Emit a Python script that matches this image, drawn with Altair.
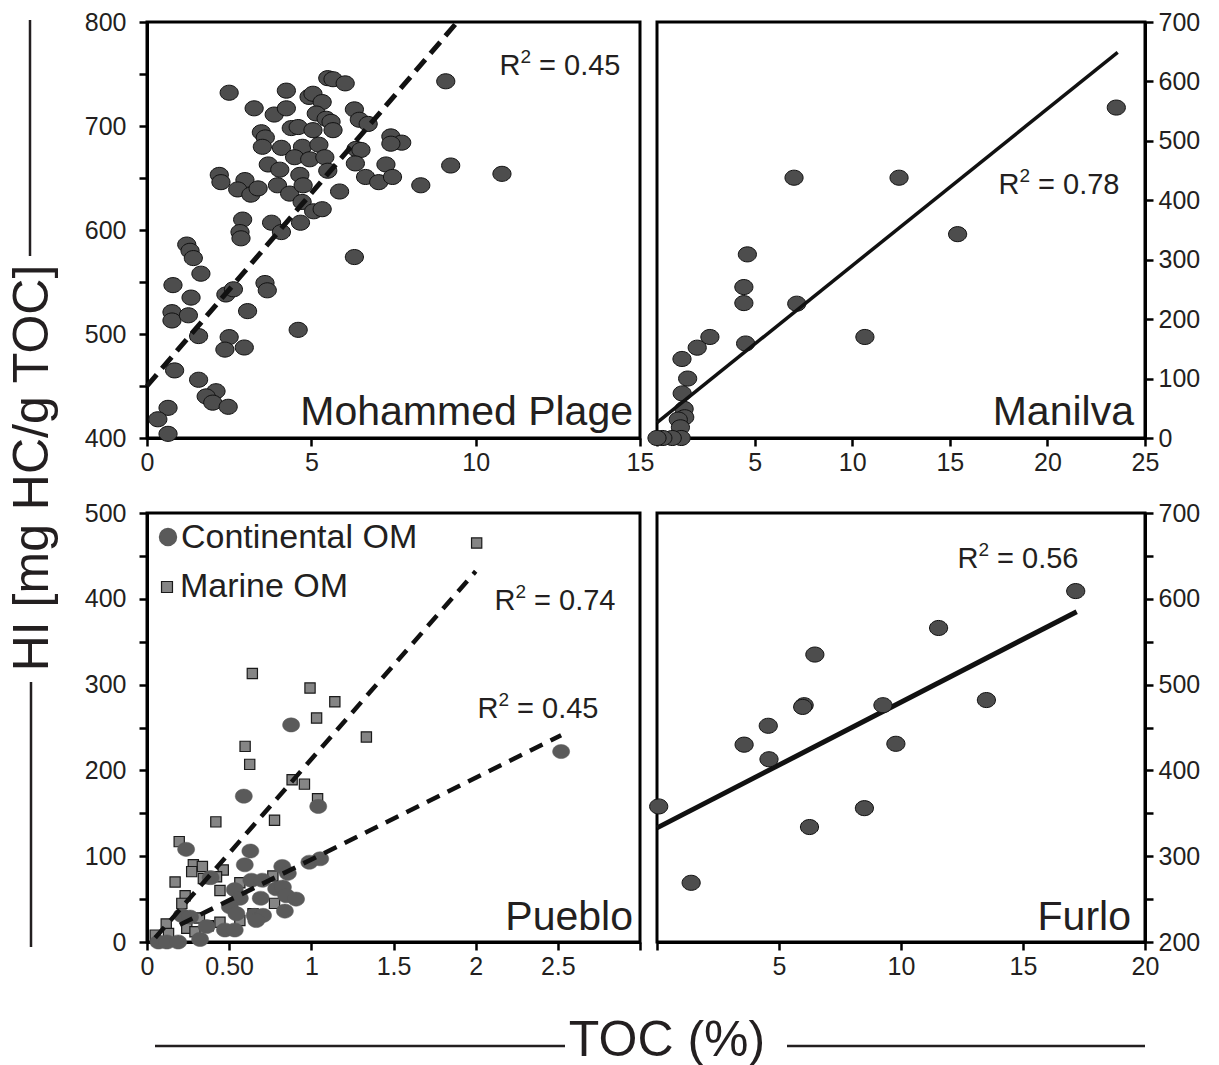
import altair as alt
import pandas as pd

# ---------------- data ----------------
# Mohammed Plage
mp_toc = [2.5, 4.24, 5.5, 5.66, 6.03, 9.09, 3.26, 3.87, 4.24, 4.93,
          5.05, 5.33, 6.31, 6.46, 6.73, 5.15, 5.45, 5.6, 5.66, 4.39,
          4.6, 5.05, 3.48, 3.6, 3.51, 4.09, 4.73, 5.23, 4.49, 4.95,
          5.41, 6.36, 6.51, 7.42, 7.75, 7.42, 6.34, 7.27, 9.24, 10.8,
          3.69, 4.04, 4.65, 5.5, 2.2, 2.25, 2.98, 2.76, 3.16, 3.38,
          3.97, 4.34, 4.75, 4.72, 5.07, 5.33, 5.86, 6.65, 7.05, 7.47,
          8.33, 2.91, 2.83, 2.86, 3.79, 4.09, 4.67, 6.31, 1.21, 1.31,
          1.41, 1.64, 0.79, 1.34, 0.76, 0.76, 1.26, 2.4, 2.63, 3.59,
          3.66, 3.06, 1.57, 2.5, 2.37, 2.96, 4.6, 0.84, 1.57, 2.1,
          1.8, 2.0, 2.47, 0.64, 0.33, 0.64]
mp_hi = [732, 734, 746, 745, 741, 743, 717, 711, 717, 728,
         731, 723, 716, 706, 702, 712, 707, 704, 696, 698,
         699, 696, 694, 689, 680, 679, 680, 682, 670, 668,
         670, 678, 677, 690, 684, 683, 664, 663, 662, 654,
         663, 658, 653, 657, 653, 646, 648, 639, 634, 640,
         643, 635, 643, 627, 618, 620, 637, 651, 646, 651,
         643, 610, 598, 592, 607, 598, 607, 574, 586, 580,
         573, 558, 547, 535, 521, 513, 518, 538, 543, 549,
         542, 522, 498, 497, 485, 487, 504, 465, 456, 445,
         440, 434, 430, 429, 418, 404]
mp_fit_toc = [0.0, 9.44]
mp_fit_hi = [450, 800]

# Manilva
man_toc = [23.53, 7.02, 12.4, 15.4, 4.63, 4.45, 4.45, 7.16, 10.65, 2.71,
           2.06, 4.54, 1.28, 1.57, 1.29, 1.39, 1.42, 1.09, 1.2, 1.24,
           0.78, 0.3, 0.0]
man_hi = [556, 438, 438, 343, 309, 254, 227, 226, 170, 170,
          152, 159, 133, 100, 75, 49, 35, 31, 18, 0,
          0, 0, 0]
man_fit_toc = [0.0, 23.6]
man_fit_hi = [26, 649]

# Pueblo
pue_mar_toc = [2.006, 0.641, 0.992, 1.143, 1.032, 1.335, 0.597, 0.625, 0.883, 0.958,
               1.038, 0.419, 0.776, 0.196, 0.282, 0.337, 0.272, 0.464, 0.343, 0.423,
               0.171, 0.565, 0.766, 0.232, 0.444, 0.212, 0.776, 0.319, 0.444, 0.565,
               0.117, 0.131, 0.242, 0.292, 0.373, 0.645, 0.05]
pue_mar_hi = [465, 313, 296, 280, 261, 239, 228, 207, 189, 184,
              167, 140, 142, 117, 90, 88, 82, 84, 74, 76,
              70, 69, 77, 54, 60, 45, 45, 28, 23, 25,
              21, 10, 16, 12, 19, 33, 8]
pue_con_toc = [2.52, 0.877, 0.589, 1.042, 0.238, 0.629, 0.595, 0.988, 1.054, 0.823,
               0.857, 0.387, 0.635, 0.702, 0.786, 0.827, 0.847, 0.907, 0.534, 0.565,
               0.504, 0.544, 0.692, 0.655, 0.706, 0.665, 0.839, 0.212, 0.262, 0.363,
               0.323, 0.474, 0.534, 0.07, 0.121, 0.19]
pue_con_hi = [222, 253, 170, 158, 108, 106, 90, 93, 97, 88,
              80, 75, 72, 72, 62, 64, 54, 50, 61, 51,
              41, 33, 51, 31, 31, 25, 36, 31, 29, 18,
              3, 14, 14, 0, 0, 0]
pue_mar_fit_toc = [0.05, 2.0]
pue_mar_fit_hi = [5, 432]
pue_con_fit_toc = [0.2, 2.52]
pue_con_fit_hi = [20, 241]

# Furlo
fur_toc = [0.07, 1.4, 3.57, 4.56, 4.59, 6.03, 5.97, 6.47, 6.25, 8.5,
           9.26, 9.79, 11.54, 13.5, 17.16]
fur_hi = [358, 269, 430, 452, 413, 476, 474, 535, 334, 356,
          476, 431, 566, 482, 609]
fur_fit_toc = [0.0, 17.2]
fur_fit_hi = [333, 585]

# ---------------- style ----------------
FONT = "Liberation Sans"
INK = "#231f20"
ELLIPSE = "M-1,0A1,0.83,0,1,0,1,0A1,0.83,0,1,0,-1,0Z"
one = pd.DataFrame({"a": [0]})


def df(x, y):
    return pd.DataFrame({"toc": x, "hi": y})


def txt(text, x, y, size, align="right", baseline="alphabetic", angle=0):
    kw = dict(text=text, font=FONT, fontSize=size, align=align,
              baseline=baseline, color=INK)
    if angle:
        kw["angle"] = angle
    return alt.Chart(one).mark_text(**kw).encode(x=alt.value(x), y=alt.value(y))


def r2(value, xc, yb, f=29):
    w = (0.722 + 0.361 + 0.278 + 2.808) * f
    x0 = xc - w / 2
    return [
        txt("R", x0, yb, f, align="left"),
        txt("2", x0 + 0.722 * f, yb - 0.4 * f, round(0.65 * f), align="left"),
        txt("= " + value, x0 + (0.722 + 0.361 + 0.278) * f, yb, f, align="left"),
    ]


def hrule(x1, x2, y):
    return alt.Chart(one).mark_rule(color=INK, strokeWidth=2.5).encode(
        x=alt.value(x1), x2=alt.value(x2), y=alt.value(y))


def vrule(x, y1, y2):
    return alt.Chart(one).mark_rule(color=INK, strokeWidth=2.5).encode(
        x=alt.value(x), y=alt.value(y1), y2=alt.value(y2))


def enc(xdom, xvals, xexpr, ydom, yvals, yexpr, orient):
    x = alt.X("toc:Q", scale=alt.Scale(domain=xdom, nice=False, zero=False),
              axis=alt.Axis(values=xvals, labelExpr=xexpr, title=None,
                            tickSize=8, labelPadding=4))
    y = alt.Y("hi:Q", scale=alt.Scale(domain=ydom, nice=False, zero=False),
              axis=alt.Axis(values=yvals, labelExpr=yexpr, title=None,
                            orient=orient, tickSize=8,
                            labelPadding=13 if orient == "left" else 5))
    return x, y


def points(data, x, y, size=330, fill="#4d4d4d", stroke="#111111", sw=1.0, shape=ELLIPSE):
    return alt.Chart(data).mark_point(
        shape=shape, size=size, filled=True, fill=fill, stroke=stroke,
        strokeWidth=sw, opacity=1, fillOpacity=1
    ).encode(x=x, y=y)


def fit(data, x, y, width, dash=None):
    kw = dict(color="#111111", strokeWidth=width, strokeCap="butt")
    if dash:
        kw["strokeDash"] = dash
    return alt.Chart(data).mark_line(**kw).encode(x=x, y=y)


hundreds = "datum.value % 100 == 0 ? datum.label : ''"
nozero = "datum.value == 0 ? '' : datum.label"
NAME = 41

# ---------------- panel 1: Mohammed Plage ----------------
x1, y1 = enc([0, 15], [0, 5, 10, 15], "datum.label",
             [400, 800], list(range(400, 801, 50)), hundreds, "left")
p1 = alt.layer(
    points(df(mp_toc, mp_hi), x1, y1),
    fit(df(mp_fit_toc, mp_fit_hi), x1, y1, 5, [15, 8]),
    *r2("0.45", 413, 53),
    txt("Mohammed Plage", 486, 403, NAME),
    # vertical axis title shared by both rows
    txt("HI [mg HC/g TOC]", -114, 446, 50, align="center", baseline="middle", angle=270),
    vrule(-117, -2, 234),
    vrule(-116, 660, 925),
).properties(width=493, height=416)

# ---------------- panel 2: Manilva ----------------
x2, y2 = enc([0, 25], [0, 5, 10, 15, 20, 25], nozero,
             [0, 700], list(range(0, 701, 100)), "datum.label", "right")
p2 = alt.layer(
    points(df(man_toc, man_hi), x2, y2),
    fit(df(man_fit_toc, man_fit_hi), x2, y2, 3.5),
    *r2("0.78", 402, 172),
    txt("Manilva", 477, 403, NAME),
).properties(width=488, height=416)

# ---------------- panel 3: Pueblo ----------------
x3, y3 = enc([0, 3], [0, 0.5, 1, 1.5, 2, 2.5, 3],
             "datum.value == 0.5 ? '0.50' : datum.value == 3 ? '' : format(datum.value, '~g')",
             [0, 500], list(range(0, 501, 50)), hundreds, "left")
p3 = alt.layer(
    points(df(pue_mar_toc, pue_mar_hi), x3, y3, size=105, fill="#858585",
           stroke="#1a1a1a", sw=1.2, shape="square"),
    points(df(pue_con_toc, pue_con_hi), x3, y3, size=290, fill="#5a5a5a",
           stroke="#5a5a5a", sw=0.5),
    fit(df(pue_mar_fit_toc, pue_mar_fit_hi), x3, y3, 4.5, [14, 9]),
    fit(df(pue_con_fit_toc, pue_con_fit_hi), x3, y3, 4.5, [14, 9]),
    *r2("0.74", 408, 97),
    *r2("0.45", 391, 205),
    txt("Pueblo", 486, 417, NAME),
    # legend
    alt.Chart(one).mark_point(shape="circle", size=270, filled=True, fill="#5a5a5a",
                              stroke="#5a5a5a", opacity=1).encode(
        x=alt.value(21), y=alt.value(24)),
    txt("Continental OM", 34, 25, 34, align="left", baseline="middle"),
    alt.Chart(one).mark_point(shape="square", size=120, filled=True, fill="#858585",
                              stroke="#1a1a1a", strokeWidth=1.2, opacity=1).encode(
        x=alt.value(20), y=alt.value(74)),
    txt("Marine OM", 33, 74, 34, align="left", baseline="middle"),
    # horizontal axis title shared by both columns
    txt("TOC (%)", 520, 528, 50, align="center", baseline="middle"),
    hrule(8, 418, 533),
    hrule(640, 998, 533),
).properties(width=493, height=429)

# ---------------- panel 4: Furlo ----------------
x4, y4 = enc([0, 20], [0, 5, 10, 15, 20], nozero,
             [200, 700], list(range(200, 701, 50)), hundreds, "right")
p4 = alt.layer(
    fit(df(fur_fit_toc, fur_fit_hi), x4, y4, 5),
    points(df(fur_toc, fur_hi), x4, y4),
    *r2("0.56", 361, 55),
    txt("Furlo", 474, 417, NAME),
).properties(width=488, height=429)

chart = alt.concat(
    p1, p2, p3, p4, columns=2,
    spacing={"row": 75, "column": 17}, bounds="flush",
).properties(
    padding={"left": 6, "top": 8, "right": 5, "bottom": 3},
    background="white",
).configure_view(
    stroke="black", strokeWidth=3
).configure_axis(
    domainColor="black", domainWidth=3, tickColor="black", tickWidth=2.5,
    labelFont=FONT, labelFontSize=25, labelColor=INK, grid=False,
    labelOverlap=False, labelBound=False, labelFlush=False,
)

chart.save("out.html", embed_options={"renderer": "svg", "actions": False})
